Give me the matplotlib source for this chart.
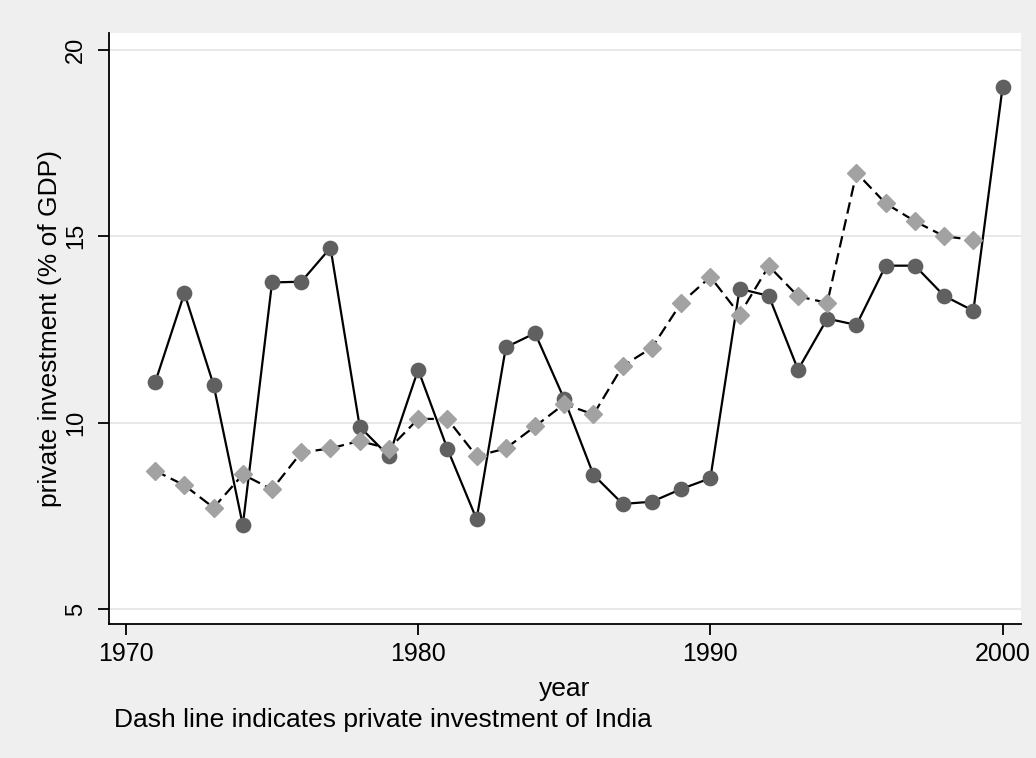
import matplotlib
matplotlib.use("Agg")
import matplotlib.pyplot as plt

plt.rcParams['font.family'] = ['Liberation Sans', 'DejaVu Sans']

# data
years = list(range(1971, 2001))
# solid line, circles
invest_solid = [11.08, 13.47, 11.01, 7.25, 13.76, 13.78, 14.69, 9.89, 9.10, 11.42,
                9.30, 7.41, 12.02, 12.40, 10.63, 8.60, 7.82, 7.88, 8.22, 8.51,
                13.59, 13.40, 11.42, 12.79, 12.62, 14.21, 14.21, 13.40, 13.00, 19.00]
# dashed line, diamonds (India), no value for 2000
years_india = list(range(1971, 2000))
invest_india = [8.71, 8.32, 7.72, 8.61, 8.21, 9.20, 9.31, 9.51, 9.30, 10.10,
                10.10, 9.10, 9.31, 9.90, 10.50, 10.22, 11.52, 12.01, 13.21, 13.91,
                12.90, 14.20, 13.39, 13.21, 16.70, 15.88, 15.40, 15.00, 14.90]

xticks = [1970, 1980, 1990, 2000]
yticks = [5, 10, 15, 20]

fig = plt.figure(figsize=(10.36, 7.58), dpi=100, facecolor='#efefef')
ax = fig.add_axes([109/1036, 1 - 624/758, 912/1036, 591/758])
ax.set_facecolor('white')

ax.plot(years, invest_solid, color='black', lw=1.6, marker='o', ms=10.3,
        mfc='#606060', mec='#606060', zorder=3)
ax.plot(years_india, invest_india, color='black', lw=1.6, ls=(0, (5.2, 2.6)),
        marker='D', ms=8.7, mfc='#a2a2a2', mec='#a2a2a2', zorder=4)

ax.set_xlim(1969.42, 2000.63)
ax.set_ylim(4.60, 20.45)
ax.set_xticks(xticks)
ax.set_yticks(yticks)
ax.grid(axis='y', color='#e6e6e6', lw=1.3, zorder=0)
ax.set_axisbelow(True)

for s in ['top', 'right']:
    ax.spines[s].set_visible(False)
for s in ['left', 'bottom']:
    ax.spines[s].set_linewidth(1.3)
    ax.spines[s].set_color('black')

ax.tick_params(axis='both', length=8, width=1.3, color='black')
ax.tick_params(axis='x', labelsize=18, pad=5)
ax.tick_params(axis='y', labelsize=17, pad=8, labelrotation=90)
for lab in ax.get_yticklabels():
    lab.set_va('center')

ax.set_xlabel('year', fontsize=19, labelpad=8)
ax.set_ylabel('private investment (% of GDP)', fontsize=19, labelpad=2)

fig.text(114/1036, 1 - 727/758, 'Dash line indicates private investment of India',
         fontsize=19, va='baseline', ha='left')

fig.savefig('out.png', dpi=100, facecolor=fig.get_facecolor())
